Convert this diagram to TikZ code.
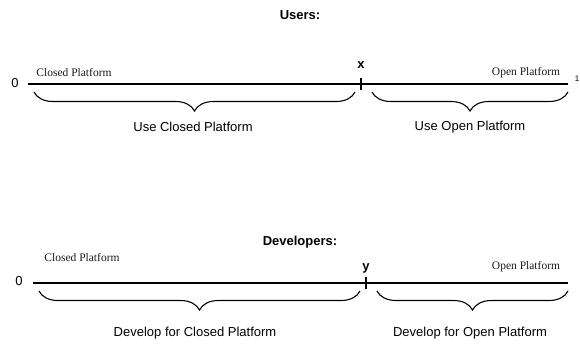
\documentclass[tikz,border=0pt]{standalone}
\usepackage{fontspec}
\setmainfont{Liberation Sans}
\newfontfamily\tinyserif{Liberation Serif}
\usetikzlibrary{decorations.pathreplacing}

\begin{document}
\begin{tikzpicture}
		[x=1pt, y=-1pt,
		axis/.style = {line width=2.4pt},
		tick/.style = {line width=1.2pt},
		brc/.style = {decorate, decoration={brace, mirror, amplitude=19pt}, line width=1.1pt},
		title/.style = {font=\fontsize{13}{15}\selectfont\bfseries},
		lbl/.style = {font=\fontsize{13}{15}\selectfont},
		end/.style = {font=\fontsize{13}{15}\selectfont},
		plat/.style = {font=\tinyserif\fontsize{11.5}{13}\selectfont, text=black!90},
		var/.style = {font=\fontsize{13}{15}\selectfont\bfseries}]
	\useasboundingbox (0,0) rectangle (580,356);
	% users
	\node[title] (users) at (300,15) {Users:};
	\coordinate (u0) at (28,84);
	\coordinate (u1) at (568,84);
	\coordinate (ux) at (361,84);
	\draw[axis] (u0) -- (u1);
	\draw[tick] ([yshift=-6pt]ux) -- ([yshift=6pt]ux);
	\node[end] (uzero) at (15,83) {0};
	\node[end, font=\fontsize{8}{9}\selectfont, anchor=east, inner sep=0.5pt] (uone) at (580,79) {1};
	\node[var] (xval) at (361,65) {x};
	\node[plat] (uclosed) at (74,73) {Closed Platform};
	\node[plat] (uopen) at (526,73) {Open Platform};
	\draw[brc] (34,92) -- coordinate (uca) (355,92);
	\draw[brc] (372,92) -- coordinate (uoa) (568,92);
	\node[lbl] (ucl) at (193,127) {Use Closed Platform};
	\node[lbl] (uol) at (470,127) {Use Open Platform};
	% developers
	\node[title] (devs) at (300,242) {Developers:};
	\coordinate (d0) at (33,283);
	\coordinate (d1) at (568,283);
	\coordinate (dy) at (366,283);
	\draw[axis] (d0) -- (d1);
	\draw[tick] ([yshift=-6pt]dy) -- ([yshift=6pt]dy);
	\node[end] (dzero) at (19,281) {0};
	\node[var] (yval) at (366,268) {y};
	\node[plat] (dclosed) at (82,258) {Closed Platform};
	\node[plat] (dopen) at (526,267) {Open Platform};
	\draw[brc] (39,291) -- coordinate (dca) (360,291);
	\draw[brc] (377,291) -- coordinate (doa) (568,291);
	\node[lbl] (dcl) at (195,333) {Develop for Closed Platform};
	\node[lbl] (dol) at (470,333) {Develop for Open Platform};
\end{tikzpicture}
\end{document}
